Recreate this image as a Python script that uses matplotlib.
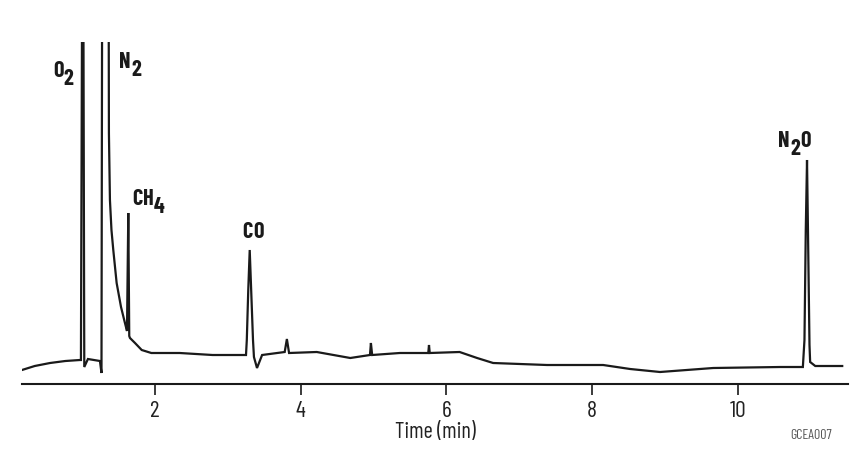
"""
Gas chromatogram: O2, N2, CH4, CO and N2O peaks.
"""
import matplotlib
matplotlib.use("Agg")
import matplotlib.pyplot as plt

# -------------------- Data --------------------
# retention time (min) and detector signal (arbitrary units, baseline ~0)
time_min = [
    0.175, 0.35, 0.56, 0.77, 0.97,
    0.984, 1.01, 1.03, 1.08, 1.245,                       # O2
    1.266, 1.28, 1.359, 1.368, 1.382, 1.403, 1.428,       # N2
    1.474, 1.534, 1.588, 1.616,                           # N2 tail
    1.634, 1.647, 1.657,                                  # CH4
    1.726, 1.818, 1.95, 2.34, 2.79, 3.20, 3.249,
    3.26, 3.28, 3.30, 3.32, 3.345, 3.358, 3.40,           # CO
    3.47, 3.78, 3.81, 3.84, 4.22, 4.68, 4.95, 4.963, 4.98,
    5.36, 5.75, 5.76, 5.77, 6.18, 6.42, 6.64, 7.38, 8.15,
    8.52, 8.93, 9.66, 10.58, 10.89,
    10.912, 10.93, 10.947, 10.96, 10.981,                 # N2O
    10.99, 11.06, 11.43,
]
signal = [
    0, 4, 7, 9, 10,
    10, 600, 3, 11, 9,
    -3, 600, 600, 237, 170, 140, 120,
    87, 63, 47, 39,
    157, 34, 32,
    27, 20, 17, 17, 15, 15, 15,
    30, 80, 120, 80, 30, 13, 2,
    15, 18, 31, 17, 18, 12, 15, 27, 15,
    17, 17, 25, 17, 18, 12, 7, 5, 5,
    1, -2, 2, 3, 3,
    30, 140, 210, 140, 25,
    8, 4, 4,
]

# peak labels (digits are drawn as subscripts), anchored at the left/baseline
peak_labels = ["O2", "N2", "CH4", "CO", "N2O"]
label_t = [0.598, 1.506, 1.684, 3.194, 10.549]
label_s = [293, 302, 165, 132, 223]

xticks = [2, 4, 6, 8, 10]

# -------------------- Style --------------------
LABEL_FONT = ["Barlow Condensed", "DejaVu Sans"]
AXIS_FONT = ["Barlow Condensed", "DejaVu Sans"]
INK = "#1a1a1a"

fig = plt.figure(figsize=(8.65, 4.65), dpi=100)
ax = fig.add_axes([0.0254, 0.17419, 0.955, 0.73548])

ax.plot(time_min, signal, color=INK, lw=1.6, solid_joinstyle="miter")


def draw_label(text, t, s):
    """Write a formula such as N2O with full-size, lowered digits."""
    prev = None
    level = 0
    for ch in text:
        new_level = -1 if ch.isdigit() else 0
        kw = dict(fontsize=16, fontweight="bold", family=LABEL_FONT, color=INK)
        if prev is None:
            prev = ax.text(t, s, ch, ha="left", va="baseline", **kw)
        else:
            dy = (new_level - level) * 5.8
            prev = ax.annotate(ch, xy=(1, 0), xycoords=prev, xytext=(0.4, dy),
                               textcoords="offset points", ha="left", va="bottom", **kw)
        level = new_level


for name, t, s in zip(peak_labels, label_t, label_s):
    draw_label(name, t, s)

ax.set_xlim(0.175, 11.51)
ax.set_ylim(-14, 328)

for side in ["top", "left", "right"]:
    ax.spines[side].set_visible(False)
ax.spines["bottom"].set_linewidth(1.5)
ax.spines["bottom"].set_color(INK)
ax.set_yticks([])
ax.set_xticks(xticks)
ax.set_xticklabels([str(v) for v in xticks], family=AXIS_FONT)
ax.tick_params(axis="x", direction="out", length=8, width=1.2, color=INK,
               labelsize=17, pad=4, labelcolor="#222222")
ax.set_xlabel("Time (min)", fontsize=16, color="#222222", labelpad=0,
              family=AXIS_FONT)

fig.text(0.9376, 0.0624, "GCEA007", fontsize=10, color="#555555", ha="center",
         va="center", family=AXIS_FONT)

plt.savefig("out.png", dpi=100)
